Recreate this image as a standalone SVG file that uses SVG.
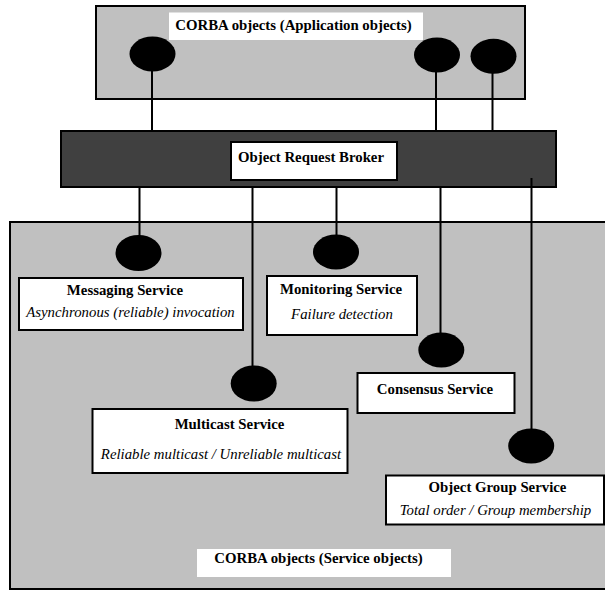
<svg xmlns="http://www.w3.org/2000/svg" width="605" height="590" viewBox="0 0 605 590">
  <style>
    .area { fill: #c0c0c0; stroke: #000; stroke-width: 2; }
    .orb { fill: #404040; stroke: #000; stroke-width: 2; }
    .box { fill: #fff; stroke: #000; stroke-width: 2; }
    .plate { fill: #fff; stroke: none; }
    .port { fill: #000; }
    .wire { stroke: #000; stroke-width: 2; fill: none; }
    .title { font-family: "Liberation Serif", "Times New Roman", serif; font-weight: bold; font-size: 14.8px; fill: #000; text-anchor: middle; }
    .sub { font-family: "Liberation Serif", "Times New Roman", serif; font-style: italic; font-size: 14.8px; fill: #000; text-anchor: middle; }
  </style>

  <rect width="605" height="590" fill="#fff"/>

  <!-- service objects area -->
  <g id="service-objects">
    <rect class="area" x="10" y="222" width="600" height="367"/>
    <rect class="plate" x="197" y="549" width="254" height="28"/>
    <text class="title" x="318.5" y="562.5">CORBA objects (Service objects)</text>
  </g>

  <!-- application objects area -->
  <g id="application-objects">
    <rect class="area" x="96" y="6" width="429" height="93"/>
    <rect class="plate" x="169" y="12.5" width="254" height="27.5"/>
    <text class="title" x="293.5" y="29.5">CORBA objects (Application objects)</text>
  </g>

  <!-- broker bar -->
  <g id="orb">
    <rect class="orb" x="61" y="131" width="495" height="56"/>
    <rect class="box" x="231" y="142" width="166" height="38"/>
    <text class="title" x="311" y="162">Object Request Broker</text>
  </g>

  <!-- connectors -->
  <g id="connectors">
    <line class="wire" x1="152" y1="70" x2="152" y2="131"/>
    <line class="wire" x1="436" y1="70" x2="436" y2="131"/>
    <line class="wire" x1="492.5" y1="72" x2="492.5" y2="131"/>
    <line class="wire" x1="139.5" y1="188" x2="139.5" y2="240"/>
    <line class="wire" x1="252.5" y1="188" x2="252.5" y2="370"/>
    <line class="wire" x1="336.5" y1="188" x2="336.5" y2="240"/>
    <line class="wire" x1="440.5" y1="188" x2="440.5" y2="337"/>
    <line class="wire" x1="531.5" y1="178" x2="531.5" y2="433"/>
  </g>

  <!-- interface ports -->
  <g id="ports">
    <ellipse class="port" cx="152.5" cy="54" rx="23" ry="17.5"/>
    <ellipse class="port" cx="437" cy="55" rx="23" ry="17.5"/>
    <ellipse class="port" cx="493.5" cy="56.3" rx="23" ry="17.5"/>
    <ellipse class="port" cx="138.5" cy="253" rx="23" ry="18"/>
    <ellipse class="port" cx="336" cy="252" rx="23" ry="17.5"/>
    <ellipse class="port" cx="441.3" cy="350" rx="23" ry="17.5"/>
    <ellipse class="port" cx="253.7" cy="383.5" rx="23" ry="18"/>
    <ellipse class="port" cx="531.2" cy="446" rx="23" ry="17.5"/>
  </g>

  <g id="messaging-service">
    <rect class="box" x="19" y="278" width="224" height="52"/>
    <text class="title" x="125" y="294.5">Messaging Service</text>
    <text class="sub" x="130.5" y="317">Asynchronous (reliable) invocation</text>
  </g>

  <g id="monitoring-service">
    <rect class="box" x="267" y="276" width="150" height="59"/>
    <text class="title" x="341" y="293.5">Monitoring Service</text>
    <text class="sub" x="342" y="318.5">Failure detection</text>
  </g>

  <g id="consensus-service">
    <rect class="box" x="357.5" y="373" width="157" height="40"/>
    <text class="title" x="435" y="393.5">Consensus Service</text>
  </g>

  <g id="multicast-service">
    <rect class="box" x="92.5" y="409" width="255" height="64"/>
    <text class="title" x="229.5" y="428.5">Multicast Service</text>
    <text class="sub" x="221" y="458.5">Reliable multicast / Unreliable multicast</text>
  </g>

  <g id="object-group-service">
    <rect class="box" x="386" y="475.5" width="218" height="49"/>
    <text class="title" x="497.5" y="492">Object Group Service</text>
    <text class="sub" x="495.5" y="514.5">Total order / Group membership</text>
  </g>
</svg>
